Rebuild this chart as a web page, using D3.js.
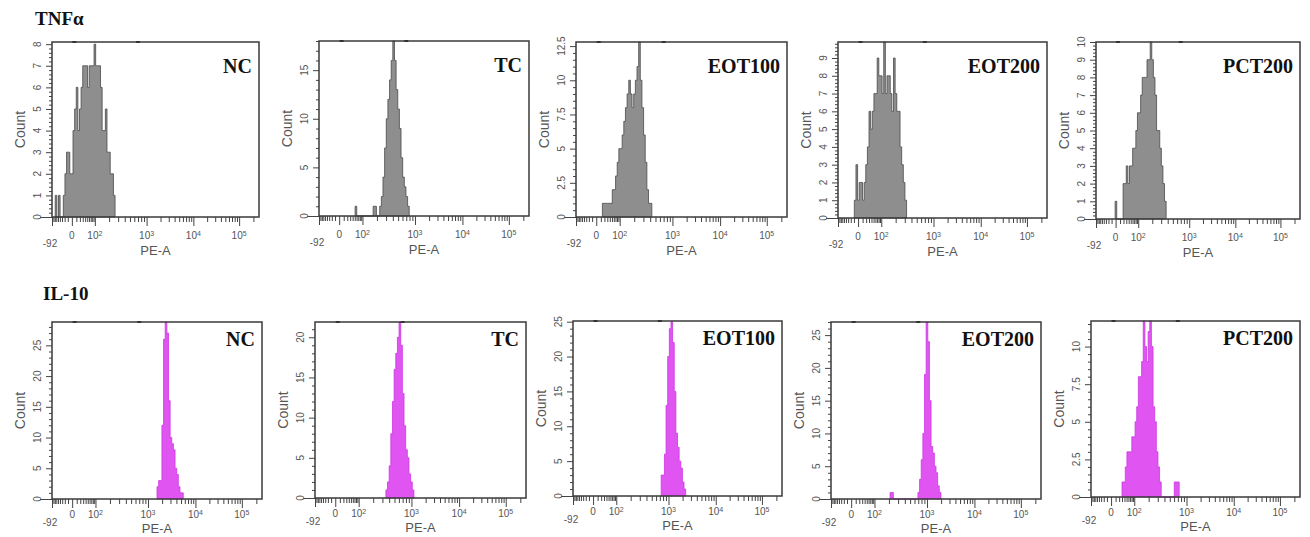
<!DOCTYPE html>
<html>
<head>
<meta charset="utf-8">
<script src="https://cdn.jsdelivr.net/npm/d3@7"></script>
<style>
  body { margin: 0; background: #fff; }
  svg { display: block; }
  .tick line { stroke: #444; }
  .axis-label { font-family: "Liberation Sans", Arial, sans-serif; fill: #555; }
  .serif { font-family: "Liberation Serif", "Times New Roman", serif; font-weight: bold; fill: #111; }
</style>
</head>
<body>
<svg id="chart"></svg>
<script>
// ---- data ----
const samples = ["NC", "TC", "EOT100", "EOT200", "PCT200"];
const markers = ["TNFα", "IL-10"];

// histogram counts per display bin (128 bins across the PE-A axis), first bin index per panel
const tnfStart = [2, 22, 16, 10, 12];
const tnfCounts = [
  [1, 0, 1, 0, 0, 1, 2, 3, 3, 2, 2, 4, 5, 6, 4, 5, 6, 7, 7, 7, 6, 7, 7, 7, 8, 7, 7, 7, 6, 4, 4, 5, 3, 3, 2, 2, 1],
  [1, 0, 0, 0, 0, 0, 0, 0, 0, 0, 0, 1, 1, 0, 0, 1, 2, 4, 7, 10, 12, 14, 16, 18, 16, 13, 11, 9, 6, 4, 3, 2, 1],
  [1, 1, 1, 1, 1, 1, 2, 2, 3, 4, 5, 5, 6, 7, 8, 9, 10, 9, 8, 9, 10, 11, 13, 10, 8, 6, 4, 2, 1, 1],
  [1, 3, 1, 2, 2, 1, 2, 3, 4, 6, 5, 6, 7, 7, 9, 8, 8, 7, 10, 7, 8, 8, 7, 6, 9, 7, 6, 6, 4, 3, 2, 1],
  [1, 0, 0, 0, 0, 2, 2, 3, 2, 3, 3, 4, 4, 5, 6, 6, 7, 8, 8, 8, 9, 9, 10, 9, 8, 7, 5, 5, 4, 3, 2, 1],
];
const tnfYMax = [8.1, 18, 12.8, 9.9, 10];
const tnfYStep = [1, 5, 2.5, 1, 1];

const il10Start = [64, 43, 54, 36, 19];
const il10Counts = [
  [2, 3, 3, 12, 26, 29, 27, 16, 10, 9, 8, 5, 4, 2, 1, 1],
  [1, 2, 4, 8, 12, 16, 18, 20, 22, 19, 13, 9, 6, 5, 3, 2, 1],
  [3, 3, 6, 13, 20, 24, 25, 22, 15, 9, 7, 5, 4, 2, 1],
  [1, 1, 0, 0, 0, 0, 0, 0, 0, 0, 0, 0, 0, 0, 0, 0, 0, 1, 3, 6, 10, 19, 27, 24, 15, 8, 7, 5, 4, 2, 1],
  [1, 1, 2, 3, 3, 3, 4, 4, 5, 6, 8, 8, 9, 12, 10, 9, 11, 12, 10, 6, 5, 3, 2, 1, 0, 0, 0, 0, 0, 0, 0, 0, 1, 1, 1],
];
const il10YMax = [28.8, 21.9, 25.1, 27, 11.7];
const il10YStep = [5, 5, 5, 5, 2.5];

// biexponential PE-A axis: calibration values and where they sit along the axis (fraction)
const axisAnchors = [-92, 0, 100, 1000, 10000, 100000, 262144];
const axisAnchorFrac = [0, 0.096, 0.207, 0.457, 0.683, 0.904, 1];
const xTickValues = [-92, 0, 100, 1000, 10000, 100000];
const xTickLabels = [["-92", ""], ["0", ""], ["10", "2"], ["10", "3"], ["10", "4"], ["10", "5"]];
const xMinorValues = [
  -90, -80, -70, -60, -50, -40, -30, -20, -10, 10, 20, 30, 40, 50, 60, 70, 80, 90,
  200, 300, 400, 500, 600, 700, 800, 900,
  2000, 3000, 4000, 5000, 6000, 7000, 8000, 9000,
  20000, 30000, 40000, 50000, 60000, 70000, 80000, 90000, 200000,
];
const gateMarks = [5, 700];
const nBins = 128;

// ---- layout ----
const W = 1310, H = 537;
// [left, right, top, bottom] of each plot frame
const frames = [
  [[52, 259, 42, 217], [319, 529, 41, 216], [576, 787, 42, 217], [838, 1047, 42, 218], [1096, 1300, 42, 219]],
  [[52, 262, 322, 499], [315, 526, 322, 498], [573, 782, 321, 496], [831, 1041, 322, 499], [1091, 1300, 321, 497]],
];
const rowTitlePos = [[35, 25], [43, 300]];
const labelOffset = [31, 24];
const xLabelOffset = [22, 19];
const xTitleOffset = [38, 34];
const negLabelOffset = [30, 27];
const rowStyle = [
  { fill: "#8e8e8e", stroke: "#4a4a4a" },
  { fill: "#e055f2", stroke: "#cc36e2" },
];

const rows = [
  { start: tnfStart, counts: tnfCounts, yMax: tnfYMax, yStep: tnfYStep },
  { start: il10Start, counts: il10Counts, yMax: il10YMax, yStep: il10YStep },
];

const svg = d3.select("#chart").attr("width", W).attr("height", H);
svg.append("rect").attr("width", W).attr("height", H).attr("fill", "#fff");

function drawPanel(ri, i) {
  const [l, r, t, b] = frames[ri][i];
  const row = rows[ri];
  const style = rowStyle[ri];
  const g = svg.append("g");

  const xBin = d3.scaleLinear().domain([0, nBins]).range([l, r]);
  const xVal = d3
    .scaleSymlog()
    .constant(30)
    .domain(axisAnchors)
    .range(axisAnchorFrac.map((f) => l + f * (r - l)));
  const yMax = row.yMax[i];
  const y = d3.scaleLinear().domain([0, yMax]).range([b, t]).clamp(true);

  // histogram
  const pts = row.counts[i].map((c, k) => ({ bin: row.start[i] + k, c }));
  pts.push({ bin: row.start[i] + row.counts[i].length, c: 0 });
  const area = d3
    .area()
    .curve(d3.curveStepAfter)
    .x((d) => xBin(d.bin))
    .y0(b)
    .y1((d) => y(d.c));
  g.append("path")
    .datum(pts)
    .attr("d", area)
    .attr("fill", style.fill)
    .attr("stroke", style.stroke)
    .attr("stroke-width", 0.8);

  // y axis: minor then major ticks
  const step = row.yStep[i];
  const major = d3.range(0, yMax + 1e-9, step);
  const minor = d3.range(0, yMax + 1e-9, step / 5).filter((v) => !major.some((m) => Math.abs(m - v) < 1e-9));
  g.append("g")
    .attr("transform", `translate(${l},0)`)
    .call(d3.axisLeft(y).tickValues(minor).tickSize(3).tickFormat(""))
    .call((s) => s.select(".domain").remove());
  const ya = g
    .append("g")
    .attr("transform", `translate(${l},0)`)
    .call(d3.axisLeft(y).tickValues(major).tickSize(6).tickFormat(""));
  ya.select(".domain").remove();
  ya.selectAll(".tick line").filter((d) => d === 0).attr("x2", -12);

  g.selectAll(".ylab")
    .data(major)
    .join("text")
    .attr("class", "axis-label")
    .attr("transform", (d) => `translate(${l - 15},${y(d)}) rotate(-90)`)
    .attr("text-anchor", "middle")
    .attr("dominant-baseline", "central")
    .style("font-size", "10px")
    .text((d) => d);

  g.append("text")
    .attr("class", "axis-label")
    .attr("transform", `translate(${l - 32},${(t + b) / 2}) rotate(-90)`)
    .attr("text-anchor", "middle")
    .attr("dominant-baseline", "central")
    .style("font-size", "14px")
    .text("Count");

  // x axis
  g.append("g")
    .attr("transform", `translate(0,${b})`)
    .call(d3.axisBottom(xVal).tickValues(xMinorValues).tickSize(5).tickFormat(""))
    .call((s) => s.select(".domain").remove());
  g.append("g")
    .attr("transform", `translate(0,${b})`)
    .call(d3.axisBottom(xVal).tickValues(xTickValues).tickSize(9).tickFormat(""))
    .call((s) => s.select(".domain").remove());

  const xl = g
    .selectAll(".xlab")
    .data(xTickValues)
    .join("text")
    .attr("class", "axis-label")
    .attr("x", (d) => xVal(d) + (d < 0 ? -2 : 0))
    .attr("y", (d) => b + (d < 0 ? negLabelOffset[ri] : xLabelOffset[ri]))
    .attr("text-anchor", "middle")
    .style("font-size", "10px");
  xl.append("tspan").text((d, k) => xTickLabels[k][0]);
  xl.append("tspan")
    .attr("dy", "-0.5em")
    .style("font-size", "7px")
    .text((d, k) => xTickLabels[k][1]);

  g.append("text")
    .attr("class", "axis-label")
    .attr("x", (l + r) / 2)
    .attr("y", b + xTitleOffset[ri])
    .attr("text-anchor", "middle")
    .style("font-size", "13px")
    .text("PE-A");

  // frame
  g.append("rect")
    .attr("x", l)
    .attr("y", t)
    .attr("width", r - l)
    .attr("height", b - t)
    .attr("fill", "none")
    .attr("stroke", "#3a3a3a")
    .attr("stroke-width", 1.5);

  g.selectAll(".gate")
    .data(gateMarks)
    .join("line")
    .attr("x1", (d) => xVal(d) - 2)
    .attr("x2", (d) => xVal(d) + 2)
    .attr("y1", t)
    .attr("y2", t)
    .attr("stroke", "#333")
    .attr("stroke-width", 2);

  // sample label
  g.append("text")
    .attr("class", "serif")
    .attr("x", r - 7)
    .attr("y", t + labelOffset[ri])
    .attr("text-anchor", "end")
    .style("font-size", "20px")
    .text(samples[i]);
}

markers.forEach((m, ri) => {
  svg.append("text")
    .attr("class", "serif")
    .attr("x", rowTitlePos[ri][0])
    .attr("y", rowTitlePos[ri][1])
    .style("font-size", "19px")
    .text(m);
  samples.forEach((s, i) => drawPanel(ri, i));
});
</script>
</body>
</html>
